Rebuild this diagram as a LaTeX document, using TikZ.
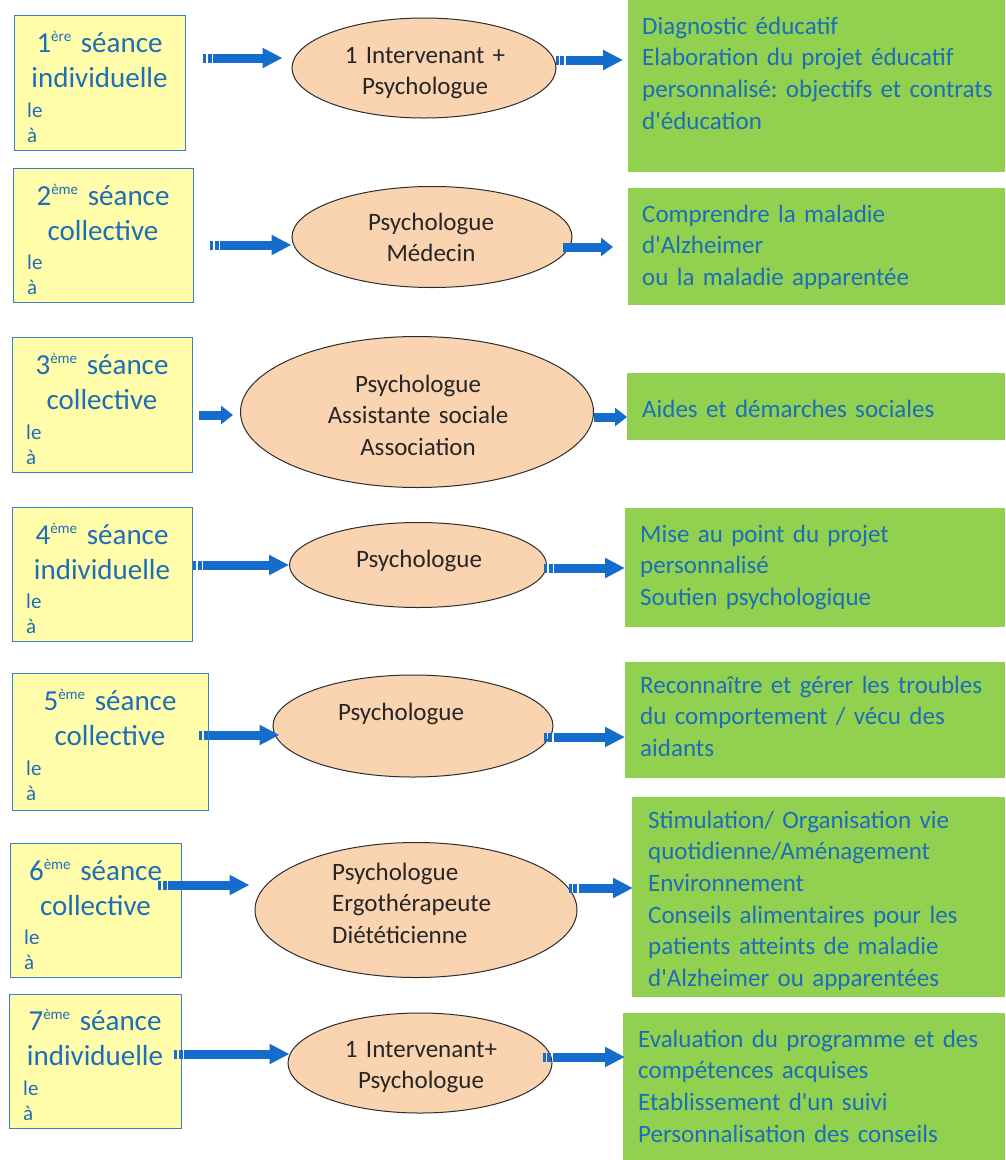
\documentclass[tikz,border=0pt]{standalone}
\usepackage{fontspec}
\setmainfont{Carlito}[Ligatures=TeXOff]
\usetikzlibrary{shapes.geometric,arrows.meta,calc}
\definecolor{txtblue}{RGB}{28,110,184}
\definecolor{arrblue}{RGB}{20,108,205}
\definecolor{yfill}{RGB}{255,253,170}
\definecolor{yborder}{RGB}{60,125,200}
\definecolor{efill}{RGB}{250,211,176}
\definecolor{eborder}{RGB}{45,45,45}
\definecolor{etxt}{RGB}{38,38,38}
\definecolor{gfill}{RGB}{146,208,80}
\newcommand\mysup[1]{\raisebox{10.5pt}{\fontsize{15}{15}\selectfont #1}}
\frenchspacing
\begin{document}
\begin{tikzpicture}[x=1pt,y=-1pt,
  ybox/.style={draw=yborder, line width=1.3pt, fill=yfill, inner sep=0pt, anchor=north west},
  ell/.style={ellipse, draw=eborder, line width=1pt, fill=efill, inner sep=0pt},
  gbox/.style={fill=gfill, inner sep=0pt, anchor=north west},
  ytitle/.style={text=txtblue, font=\frenchspacing\fontsize{29}{35}\selectfont, text width=#1, align=center, anchor=base, inner sep=0pt},
  ysmall/.style={text=txtblue, font=\fontsize{21}{25}\selectfont, text width=40pt, align=left, anchor=base west, inner sep=0pt},
  etext/.style={text=etxt, font=\frenchspacing\fontsize{25}{31.5}\selectfont, text width=230pt, align=center, anchor=base, inner sep=0pt},
  etextl/.style={text=etxt, font=\frenchspacing\fontsize{25}{31.5}\selectfont, text width=180pt, align=left, anchor=base west, inner sep=0pt},
  gtext/.style={text=txtblue, font=\frenchspacing\fontsize{25}{31.7}\selectfont, text width=362pt, align=left, anchor=base west, inner sep=0pt},
  barrow/.style={draw=arrblue, line width=9pt, -{Triangle[length=20pt,width=19pt]}},
  sarrow/.style={draw=arrblue, line width=9pt, -{Triangle[length=12pt,width=18pt]}},
  striped/.style={dash pattern=on 3pt off 1.5pt on 4pt off 1.5pt on 3000pt off 1pt}
]
\fill[white] (0,0) rectangle (1005,1160);
\useasboundingbox (0,0) rectangle (1005,1160);

% ---- yellow session boxes
\node[ybox, minimum width=171pt, minimum height=135pt] (b1) at (14,15) {};
\node[ybox, minimum width=180pt, minimum height=134pt] (b2) at (13,168) {};
\node[ybox, minimum width=180pt, minimum height=135pt] (b3) at (12,337) {};
\node[ybox, minimum width=180pt, minimum height=134pt] (b4) at (12,507) {};
\node[ybox, minimum width=196pt, minimum height=137pt] (b5) at (12,673) {};
\node[ybox, minimum width=171pt, minimum height=134pt] (b6) at (10,843) {};
\node[ybox, minimum width=172pt, minimum height=134pt] (b7) at (9,994) {};

\node[ytitle=171pt] (b1t) at (99.5,52) {1\mysup{ère} séance\\individuelle};
\node[ytitle=180pt] (b2t) at (103,205) {2\mysup{ème} séance\\collective};
\node[ytitle=180pt] (b3t) at (102,374) {3\mysup{ème} séance\\collective};
\node[ytitle=180pt] (b4t) at (102,544) {4\mysup{ème} séance\\individuelle};
\node[ytitle=196pt] (b5t) at (110,710) {5\mysup{ème} séance\\collective};
\node[ytitle=171pt] (b6t) at (95.5,880) {6\mysup{ème} séance\\collective};
\node[ytitle=172pt] (b7t) at (95,1030) {7\mysup{ème} séance\\individuelle};

\node[ysmall] (b1s) at (27,117) {le\\à};
\node[ysmall] (b2s) at (27,269) {le\\à};
\node[ysmall] (b3s) at (26,439) {le\\à};
\node[ysmall] (b4s) at (26,608) {le\\à};
\node[ysmall] (b5s) at (26,775) {le\\à};
\node[ysmall] (b6s) at (24,944) {le\\à};
\node[ysmall] (b7s) at (23,1095) {le\\à};

% ---- ellipses
\node[ell, minimum width=264pt, minimum height=100pt] (e1) at (424,68) {};
\node[ell, minimum width=280pt, minimum height=101pt] (e2) at (432,237) {};
\node[ell, minimum width=353pt, minimum height=151pt] (e3) at (417,412) {};
\node[ell, minimum width=257pt, minimum height=85pt] (e4) at (418,565) {};
\node[ell, minimum width=280pt, minimum height=102pt] (e5) at (413,726) {};
\node[ell, minimum width=322pt, minimum height=135pt] (e6) at (416,910) {};
\node[ell, minimum width=264pt, minimum height=100pt] (e7) at (420,1063) {};

\node[etext] (e1t) at (425,63) {1 Intervenant +\\Psychologue};
\node[etext] (e2t) at (431,230) {Psychologue\\Médecin};
\node[etext] (e3t) at (418,392) {Psychologue\\Assistante sociale\\Association};
\node[etext] (e4t) at (419,567) {Psychologue};
\node[etext] (e5t) at (401,720) {Psychologue};
\node[etextl] (e6t) at (332,880) {Psychologue\\Ergothérapeute\\Diététicienne};
\node[etext] (e7t) at (421,1057) {1 Intervenant+\\Psychologue};

% ---- green result boxes
\node[gbox, minimum width=377pt, minimum height=172pt] (g1) at (628,0) {};
\node[gbox, minimum width=377pt, minimum height=117pt] (g2) at (628,188) {};
\node[gbox, minimum width=378pt, minimum height=67pt] (g3) at (627,373) {};
\node[gbox, minimum width=380pt, minimum height=119pt] (g4) at (625,508) {};
\node[gbox, minimum width=380pt, minimum height=116pt] (g5) at (625,662) {};
\node[gbox, minimum width=373pt, minimum height=200pt] (g6) at (632,797) {};
\node[gbox, minimum width=382pt, minimum height=147pt] (g7) at (623,1013) {};

\node[gtext] (g1t) at (642,34) {Diagnostic éducatif\\Elaboration du projet éducatif\\personnalisé: objectifs et contrats\\d'éducation};
\node[gtext] (g2t) at (642,222) {Comprendre la maladie\\d'Alzheimer\\ou la maladie apparentée};
\node[gtext] (g3t) at (642,417) {Aides et démarches sociales};
\node[gtext] (g4t) at (640,542) {Mise au point du projet\\personnalisé\\Soutien psychologique};
\node[gtext] (g5t) at (640,693) {Reconnaître et gérer les troubles\\du comportement / vécu des\\aidants};
\node[gtext] (g6t) at (648,828) {Stimulation/ Organisation vie\\quotidienne/Aménagement\\Environnement\\Conseils alimentaires pour les\\patients atteints de maladie\\d'Alzheimer ou apparentées};
\node[gtext] (g7t) at (638,1047) {Evaluation du programme et des\\compétences acquises\\Etablissement d'un suivi\\Personnalisation des conseils};

% ---- arrow levels
\coordinate (y1i) at (0,58);   \coordinate (y1o) at (0,60);
\coordinate (y2i) at (0,245);  \coordinate (y2o) at (0,247);
\coordinate (y3i) at (0,415);  \coordinate (y3o) at (0,417);
\coordinate (y4i) at (0,565);  \coordinate (y4o) at (0,568);
\coordinate (y5i) at (0,735);  \coordinate (y5o) at (0,737);
\coordinate (y6i) at (0,885);  \coordinate (y6o) at (0,888);
\coordinate (y7i) at (0,1054); \coordinate (y7o) at (0,1057);

% ---- arrows
\draw[barrow, striped] ($(b1.east |- y1i)+(17,0)$) -- ($(e1.west |- y1i)+(-9,0)$);
\draw[barrow, striped] ($(e1.east |- y1o)+(-1,0)$) -- ($(g1.west |- y1o)+(-5,0)$);
\draw[barrow, striped] ($(b2.east |- y2i)+(16,0)$) -- ($(e2.west |- y2i)+(0,0)$);
\draw[sarrow] ($(e2.east |- y2o)+(-10,0)$) -- ($(g2.west |- y2o)+(-15,0)$);
\draw[sarrow] ($(b3.east |- y3i)+(6,0)$) -- ($(e3.west |- y3i)+(-7,0)$);
\draw[sarrow] ($(e3.east |- y3o)+(0,0)$) -- ($(g3.west |- y3o)+(0,0)$);
\draw[barrow, striped] ($(b4.east |- y4i)+(0,0)$) -- ($(e4.west |- y4i)+(0,0)$);
\draw[barrow, striped] ($(e4.east |- y4o)+(-3,0)$) -- ($(g4.west |- y4o)+(0,0)$);
\draw[barrow, striped] ($(b5.east |- y5i)+(-10,0)$) -- ($(e5.west |- y5i)+(7,0)$);
\draw[barrow, striped] ($(e5.east |- y5o)+(-10,0)$) -- ($(g5.west |- y5o)+(0,0)$);
\draw[barrow, striped] ($(b6.east |- y6i)+(-24,0)$) -- ($(e6.west |- y6i)+(-5,0)$);
\draw[barrow, striped] ($(e6.east |- y6o)+(-9,0)$) -- ($(g6.west |- y6o)+(1,0)$);
\draw[barrow, striped] ($(b7.east |- y7i)+(-8,0)$) -- ($(e7.west |- y7i)+(2,0)$);
\draw[barrow, striped] ($(e7.east |- y7o)+(-10,0)$) -- ($(g7.west |- y7o)+(2,0)$);
\end{tikzpicture}
\end{document}
